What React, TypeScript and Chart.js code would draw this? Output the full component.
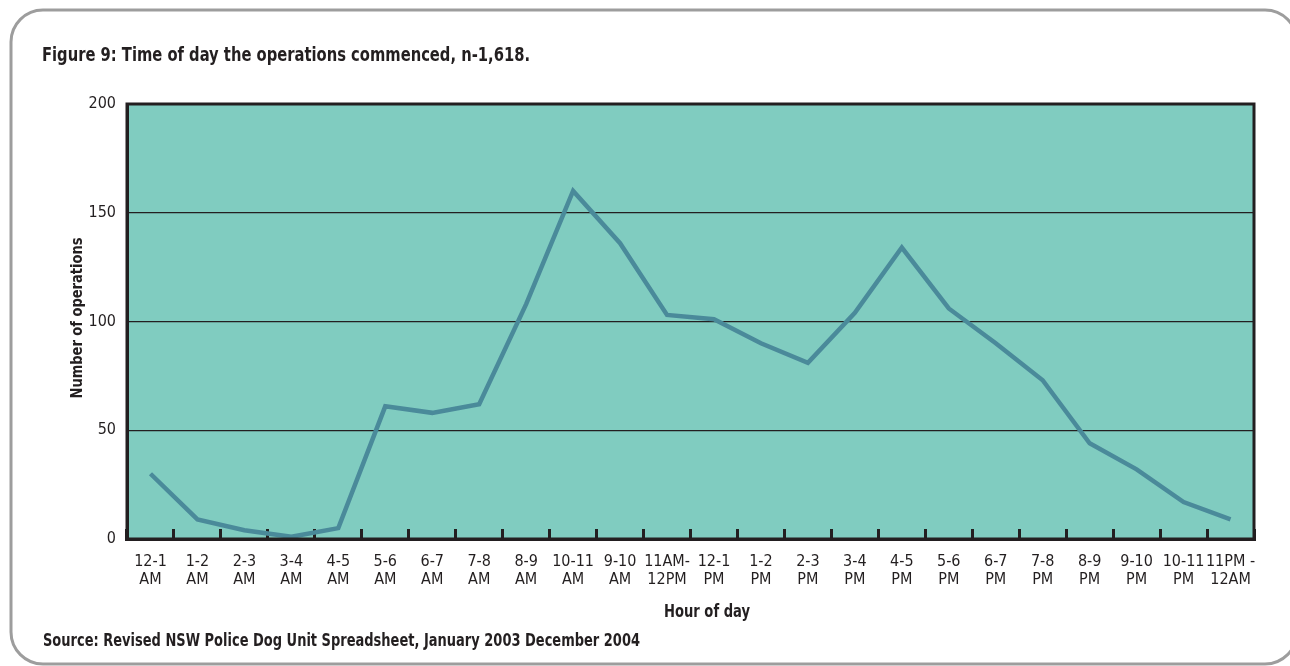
import React, { useEffect, useRef } from "react";
import { Chart, registerables } from "chart.js";

Chart.register(...registerables);

const hourRanges = [
  "12-1", "1-2", "2-3", "3-4", "4-5", "5-6", "6-7", "7-8", "8-9", "10-11", "9-10", "11AM-",
  "12-1", "1-2", "2-3", "3-4", "4-5", "5-6", "6-7", "7-8", "8-9", "9-10", "10-11", "11PM -",
];
const periods = [
  "AM", "AM", "AM", "AM", "AM", "AM", "AM", "AM", "AM", "AM", "AM", "12PM",
  "PM", "PM", "PM", "PM", "PM", "PM", "PM", "PM", "PM", "PM", "PM", "12AM",
];
const operations = [30, 9, 4, 1, 5, 61, 58, 62, 108, 160, 136, 103, 101, 90, 81, 104, 134, 106, 90, 73, 44, 32, 17, 9];
const yTicks = [0, 50, 100, 150, 200];

const titleText = "Figure 9: Time of day the operations commenced, n-1,618.";
const sourceText = "Source: Revised NSW Police Dog Unit Spreadsheet, January 2003 December 2004";
const xTitle = "Hour of day";
const yTitle = "Number of operations";

const FONT = "'Liberation Sans Narrow', 'DejaVu Sans Condensed', 'Arial Narrow', sans-serif";
const TEXT = "#231f20";

function drawFitted(
  ctx: CanvasRenderingContext2D,
  text: string,
  font: string,
  x: number,
  y: number,
  targetWidth: number,
  align: CanvasTextAlign,
  rotation = 0,
  baseline: CanvasTextBaseline = "alphabetic"
) {
  ctx.save();
  ctx.font = font;
  const w = ctx.measureText(text).width;
  const s = Math.min(1, targetWidth / w);
  ctx.translate(x, y);
  if (rotation) ctx.rotate(rotation);
  ctx.scale(s, 1);
  ctx.textAlign = align;
  ctx.textBaseline = baseline;
  ctx.fillText(text, 0, 0);
  ctx.restore();
}

export default function App() {
  const ref = useRef<HTMLCanvasElement>(null);

  useEffect(() => {
    document.body.style.margin = "0";
    const canvas = ref.current;
    if (!canvas) return;

    const decor = {
      id: "decor",
      beforeDraw(chart: any) {
        const { ctx, chartArea: a } = chart;
        ctx.save();
        ctx.fillStyle = "#ffffff";
        ctx.fillRect(0, 0, chart.width, chart.height);
        // rounded frame
        const x = 11, y = 10, w = 1286, h = 654, r = 32;
        ctx.strokeStyle = "#9d9d9d";
        ctx.lineWidth = 3;
        ctx.beginPath();
        ctx.moveTo(x + r, y);
        ctx.arcTo(x + w, y, x + w, y + h, r);
        ctx.arcTo(x + w, y + h, x, y + h, r);
        ctx.arcTo(x, y + h, x, y, r);
        ctx.arcTo(x, y, x + w, y, r);
        ctx.closePath();
        ctx.stroke();
        // plot background
        ctx.fillStyle = "#80ccc0";
        ctx.fillRect(a.left, a.top, a.right - a.left, a.bottom - a.top);
        // texts
        ctx.fillStyle = TEXT;
        drawFitted(ctx, titleText, `bold 20px ${FONT}`, 42, 61, 488, "left");
        drawFitted(ctx, sourceText, `bold 17px ${FONT}`, 43, 646, 597, "left");
        drawFitted(ctx, xTitle, `bold 18px ${FONT}`, 707, 617, 86, "center");
        drawFitted(ctx, yTitle, `bold 16px ${FONT}`, 78, 318, 161, "center", -Math.PI / 2, "middle");
        ctx.restore();
      },
      afterDatasetsDraw(chart: any) {
        const { ctx, chartArea: a } = chart;
        ctx.save();
        ctx.strokeStyle = TEXT;
        ctx.lineWidth = 3;
        ctx.strokeRect(a.left, a.top, a.right - a.left, a.bottom - a.top);
        ctx.restore();
      },
    };

    const chart = new Chart(canvas, {
      type: "line",
      data: {
        labels: hourRanges.map((h, i) => [h, periods[i]]),
        datasets: [
          {
            data: operations,
            borderColor: "#4a8a9a",
            borderWidth: 4.5,
            pointRadius: 0,
            tension: 0,
            borderJoinStyle: "miter",
            fill: false,
          },
        ],
      },
      options: {
        responsive: false,
        animation: false,
        devicePixelRatio: 1,
        layout: { padding: { left: 0, top: 104, right: 36, bottom: 0 } },
        plugins: {
          legend: { display: false },
          title: { display: false },
          tooltip: { enabled: false },
        },
        scales: {
          x: {
            type: "category",
            offset: true,
            grid: {
              offset: true,
              drawOnChartArea: false,
              drawTicks: true,
              tickLength: -10,
              color: TEXT,
              lineWidth: 3,
            },
            border: { display: true, color: TEXT, width: 3 },
            ticks: {
              font: { family: FONT, size: 16, lineHeight: 1.12 },
              color: TEXT,
              padding: 24,
              maxRotation: 0,
              minRotation: 0,
              autoSkip: false,
            },
            afterFit(s: any) {
              s.height = 127;
            },
          },
          y: {
            min: 0,
            max: 200,
            afterBuildTicks(s: any) {
              s.ticks = yTicks.map((v) => ({ value: v }));
            },
            ticks: {
              font: { family: FONT, size: 16 },
              color: TEXT,
              padding: 11,
            },
            grid: { color: TEXT, lineWidth: 1.2, drawTicks: false },
            border: { display: true, color: TEXT, width: 3 },
            title: { display: false, text: yTitle },
            afterFit(s: any) {
              s.width = 127;
            },
          },
        },
      },
      plugins: [decor],
    });

    return () => chart.destroy();
  }, []);

  return (
    <div style={{ width: 1290, height: 666 }}>
      <canvas ref={ref} width={1290} height={666} style={{ display: "block", width: 1290, height: 666 }} />
    </div>
  );
}
